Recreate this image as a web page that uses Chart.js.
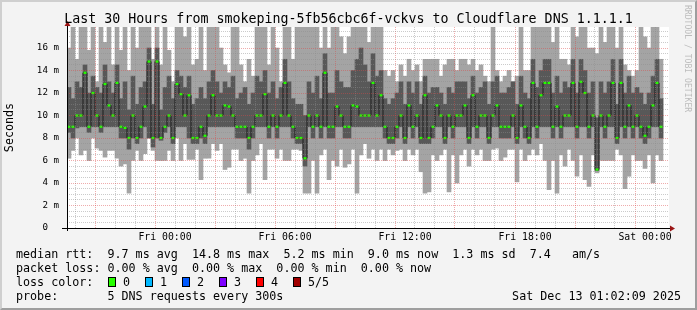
<!DOCTYPE html>
<html>
<head>
<meta charset="utf-8">
<script src="https://cdn.jsdelivr.net/npm/chart.js@4/dist/chart.umd.min.js"></script>
<style>
  html, body { margin: 0; padding: 0; background: #f3f3f3; }
  #wrap { position: relative; width: 697px; height: 310px; overflow: hidden; background: #f3f3f3;
          font-family: "DejaVu Sans Mono", monospace; color: #000; }
  #chart { position: absolute; left: 0; top: 0; }
  .frame { position: absolute; left: 0; top: 0; width: 697px; height: 310px; box-sizing: border-box;
           border-top: 2px solid #cfcfcf; border-left: 2px solid #cfcfcf;
           border-right: 2px solid #9e9e9e; border-bottom: 2px solid #9e9e9e; pointer-events: none; }
  #title { position: absolute; left: 0; top: 11px; width: 697px; text-align: center;
           font-size: 13.3px; line-height: 16px; white-space: pre; }
  .row { position: absolute; left: 16px; font-size: 11.7px; line-height: 14px; white-space: pre; }
  .stamp { position: absolute; right: 16px; font-size: 11.7px; line-height: 14px; white-space: pre; }
  .box { position: absolute; top: 277px; width: 8px; height: 10px; box-sizing: border-box; border: 1px solid #000; }
  .lbl { position: absolute; top: 275px; font-size: 11.7px; line-height: 14px; white-space: pre; }
  #mark { position: absolute; left: 683px; top: 5px; writing-mode: vertical-rl; font-size: 8.1px;
          line-height: 10px; color: #bcbcbc; white-space: pre; }
</style>
</head>
<body>
<div id="wrap">
  <canvas id="chart" width="697" height="310"></canvas>
  <div id="title">Last 30 Hours from smokeping-5fb56cbc6f-vckvs to Cloudflare DNS 1.1.1.1</div>
  <div id="mark">RRDTOOL / TOBI OETIKER</div>
  <div class="row" style="top:247px">median rtt:  9.7 ms avg  14.8 ms max  5.2 ms min  9.0 ms now  1.3 ms sd  7.4   am/s</div>
  <div class="row" style="top:261px">packet loss: 0.00 % avg  0.00 % max  0.00 % min  0.00 % now</div>
  <div class="row" style="top:275px">loss color:</div>
  <div id="losses"></div>
  <div class="row" style="top:289px">probe:       5 DNS requests every 300s</div>
  <div class="stamp" style="top:289px">Sat Dec 13 01:02:09 2025</div>
  <div class="frame"></div>
</div>
<script>
// 30 hours of DNS probes, one column per 12 minutes, hours relative to Fri 00:00.
const startHour = -4.9;
const stepHours = 0.2;
const spanHours = 30.1;

// five sorted pings per column: fastest, 2nd, median, 4th, slowest (ms)
const rttMin = [
  6.2, 6.9, 8, 6.5, 6.9, 6, 8, 7.1, 6.9, 6.3, 6.9, 6.9, 6.2, 5.5, 5.7, 3.1, 6, 6.9, 6, 6.6,
  8, 6.9, 6, 6, 6, 6.9, 6, 8, 6, 7.5,
  6.1, 6.1, 7, 4.3, 6.2, 6.2, 7.5, 6.9, 7.5, 5.2, 5.4, 7, 7, 6, 6.2, 3.1, 6, 6.5, 7.5, 4.3,
  7, 7, 6.2, 7, 6, 6, 7, 7, 6.9, 3.1,
  3.1, 6, 3.1, 6.5, 7, 4.3, 6, 5.5, 7, 5.4, 5.7, 7, 3.1, 6.5, 7.5, 6.2, 7, 6, 7, 6,
  7, 6.5, 6.9, 7, 6, 7, 6.5, 7, 5, 3.1,
  3.2, 6.5, 6, 6.5, 7, 3.2, 6.5, 4, 6.5, 7, 5.5, 7, 6.5, 7, 6, 6, 7, 7.1, 6, 6.3,
  7, 7, 4.1, 7, 6, 6.5, 7, 6.5, 7.5, 6,
  3.4, 6, 3.1, 6.5, 5.5, 7, 6, 4.6, 6.5, 4.3, 3.7, 6.5, 4.9, 6, 6, 6, 6, 7, 6.5, 3.5,
  4.6, 6.5, 6, 6, 5.3, 6.5, 4, 6.5, 6,
];
const rttP2 = [
  8.5, 8, 8.9, 9, 9, 8.5, 9, 9, 8.5, 9, 9, 9, 9, 8, 8, 7, 8, 7.5, 8, 9,
  8, 7.2, 8, 7.8, 8.5, 9, 7.5, 9, 9, 9,
  8, 7.5, 7.5, 8, 7.5, 9, 9, 9, 9, 9, 9, 9, 8, 8, 8, 7, 8, 9, 9, 9,
  8, 9, 8, 9, 9, 9, 8, 7.5, 7.5, 5.5,
  9, 8, 9, 8, 9, 8, 8, 9, 9, 8, 8, 9, 9, 9, 9, 9, 9, 9, 9, 8,
  7.5, 7.5, 8, 9, 7.5, 9, 8, 9, 7.5, 7.5,
  7.5, 8, 9, 9, 7.5, 9, 8, 9, 9, 9, 7.5, 9, 8, 9, 9, 7.5, 9, 9, 8, 8,
  8, 9, 7.5, 9, 8, 7.5, 9, 8, 9, 9,
  9, 8, 9, 8, 9, 9, 9, 8, 9, 9, 8, 9, 5.1, 9, 8, 9, 9, 7.5, 9, 8,
  9, 8, 9, 8, 7.5, 8, 9, 9, 8,
];
const rttMedian = [
  9, 9, 10, 10, 13.8, 9, 12, 10, 9, 12.8, 10.9, 10, 12.9, 9, 8.9, 8, 10, 8, 9, 10.8,
  14.8, 8, 14.8, 8, 9, 10, 8, 12.8, 11.9, 10,
  11.8, 8, 8, 9, 8.2, 10, 11.8, 10, 10, 10.9, 10.8, 10, 9, 9, 9, 8, 9, 10, 10, 11.9,
  9, 10, 9, 10, 12.9, 10, 9, 8, 8, 6.2,
  10, 9, 10, 9, 13.8, 9, 9, 10.8, 10, 9, 9, 10.9, 10.8, 10, 10, 10, 12.9, 10, 11.8, 9,
  8, 8, 9, 10, 8, 10.9, 9, 10, 8, 11.8,
  8, 9, 10.9, 10, 8, 10, 9, 10, 10, 10.9, 8, 11.8, 9, 10, 10, 8, 10, 10.9, 9, 9,
  9, 10, 8, 10.9, 9, 8, 12.9, 9, 11.8, 12.9,
  12.9, 9, 10.8, 9, 10, 10, 12.9, 9, 13, 12, 9, 10, 5.2, 10, 9, 10, 12.9, 8, 12.9, 9,
  10.9, 9, 10, 9, 8.2, 9, 10.9, 12.9, 9,
];
const rttP4 = [
  12.5, 11.5, 13, 12.5, 14.5, 12, 13.5, 12.5, 12, 14.5, 13, 12, 14.5, 11.5, 13, 10.5, 13.5, 11, 12.5, 13,
  16, 11, 16, 10.5, 12.5, 13.5, 11.5, 14, 13.5, 12.5,
  13.5, 11, 11.5, 12.5, 11.5, 13, 14, 13, 12, 13, 12.5, 13.5, 11.5, 12, 12.5, 11, 12, 13.5, 13, 14,
  12, 13, 11.5, 12.5, 15, 13, 11.5, 11, 11, 10,
  13, 12, 13.5, 11.5, 15.5, 12, 12, 14, 13, 12.5, 12.5, 14, 15, 16, 14.5, 13, 15.5, 13.5, 14, 11.5,
  11, 11.5, 12, 13, 11, 13, 12, 13, 11, 13.5,
  12, 12.5, 12.5, 12, 11, 12.5, 12, 13, 13, 13, 11.5, 13.5, 12, 12.5, 13, 11, 13, 13.5, 12, 12,
  12.5, 13, 11, 13.5, 12, 11.5, 15, 12.5, 14, 15,
  15, 12, 13.5, 12, 13, 12.5, 15, 12, 15, 14, 12, 13, 9.8, 13, 12, 13, 15, 11, 15, 12,
  13.5, 12, 12.5, 12, 11, 12, 13.5, 15, 11.5,
];
const rttMax = [
  16, 18.5, 15, 18.5, 18.5, 15.8, 18.5, 13, 18.5, 16.5, 18.5, 14.5, 18.5, 15.8, 18.5, 14, 18.5, 16, 18.5, 18.5,
  18.5, 15, 18.5, 14.5, 18.5, 15.8, 13, 18.5, 18.5, 17,
  18.5, 14.5, 15, 18.5, 14, 18.5, 18.5, 18.5, 16, 14.5, 13.8, 18.5, 18.5, 14.5, 13, 15, 13.5, 18.5, 18.5, 18.5,
  14.5, 18.5, 16, 13, 18.5, 18.5, 15, 18.5, 18.5, 18.5,
  18.5, 18.5, 18.5, 16, 18.5, 16, 18.5, 18.5, 17, 15.5, 17, 18.5, 18.5, 18.5, 18.5, 16.5, 18.5, 18.5, 18.5, 14,
  13.5, 14, 13, 14.5, 13.5, 15, 14, 14.5, 13, 15,
  15, 15, 15, 13.5, 14.5, 15, 15, 14, 15, 15, 14.5, 15, 14, 14.5, 13.5, 13, 18.5, 14, 13, 13.5,
  14, 13, 13.5, 18.5, 14, 14, 18.5, 18.5, 18.5, 18.5,
  18.5, 16.5, 18.5, 15, 15, 14.5, 18.5, 17, 18.5, 18.5, 16, 16, 15.5, 18.5, 16.5, 18.5, 18.5, 16, 18.5, 14.5,
  14, 13.5, 14, 18.5, 17, 16, 18.5, 18.5, 15,
];

const xTickHours = [0, 6, 12, 18, 24];
const xTickLabels = ['Fri 00:00', 'Fri 06:00', 'Fri 12:00', 'Fri 18:00', 'Sat 00:00'];
const yMax = 17.87;

const lossLabels = ['0', '1', '2', '3', '4', '5/5'];
const lossColors = ['#26ff00', '#00b8ff', '#0059ff', '#7e00ff', '#ff0000', '#a10000'];

const MONO = '"DejaVu Sans Mono", monospace';
const MAJOR_GRID = 'rgba(220, 70, 70, 0.45)';
const MINOR_GRID = 'rgba(140, 140, 140, 0.45)';

// loss colour legend
const losses = document.getElementById('losses');
lossLabels.forEach((label, i) => {
  const box = document.createElement('div');
  box.className = 'box';
  box.style.left = (108 + 37 * i) + 'px';
  box.style.background = lossColors[i];
  const txt = document.createElement('div');
  txt.className = 'lbl';
  txt.style.left = (123 + 37 * i) + 'px';
  txt.textContent = label;
  losses.appendChild(box);
  losses.appendChild(txt);
});

const hourOf = (i) => startHour + stepHours * (i + 0.5);
const band = (lo, hi) => lo.map((v, i) => ({ x: hourOf(i), y: [v, hi[i]] }));

// white plot canvas underneath, rrdtool-style axes with arrow heads on top
const rrdFrame = {
  id: 'rrdFrame',
  beforeDraw(chart) {
    const { ctx, chartArea: a } = chart;
    ctx.save();
    ctx.fillStyle = '#ffffff';
    ctx.fillRect(a.left, a.top, a.right - a.left, a.bottom - a.top);
    ctx.restore();
  },
  afterDraw(chart) {
    const { ctx, chartArea: a } = chart;
    const x0 = Math.round(a.left) + 0.5;
    const y0 = Math.round(a.bottom) + 0.5;
    ctx.save();
    ctx.strokeStyle = '#000';
    ctx.lineWidth = 1;
    ctx.beginPath();
    ctx.moveTo(a.left - 5, y0);
    ctx.lineTo(a.right + 1, y0);
    ctx.moveTo(x0, a.bottom + 3);
    ctx.lineTo(x0, a.top - 2);
    ctx.stroke();
    ctx.fillStyle = '#9a1414';
    ctx.beginPath();
    ctx.moveTo(a.right + 1, y0 - 3);
    ctx.lineTo(a.right + 6, y0);
    ctx.lineTo(a.right + 1, y0 + 3);
    ctx.fill();
    ctx.beginPath();
    ctx.moveTo(x0 - 3, a.top - 1);
    ctx.lineTo(x0, a.top - 6);
    ctx.lineTo(x0 + 3, a.top - 1);
    ctx.fill();
    ctx.restore();
  },
};

const barCommon = { type: 'bar', grouped: false, barPercentage: 1, categoryPercentage: 1, borderWidth: 0 };

new Chart(document.getElementById('chart'), {
  type: 'bar',
  data: {
    datasets: [
      { ...barCommon, label: 'min-max', data: band(rttMin, rttMax), backgroundColor: '#a4a4a4', order: 4 },
      { ...barCommon, label: 'p2-p4', data: band(rttP2, rttP4), backgroundColor: '#585858', order: 3 },
      {
        type: 'line',
        label: 'median',
        data: rttMedian.map((v, i) => ({ x: hourOf(i), y: v })),
        borderColor: '#1c1c1c',
        borderWidth: 1,
        stepped: 'middle',
        pointRadius: 0,
        order: 2,
      },
      {
        ...barCommon,
        label: 'loss 0',
        data: rttMedian.map((v, i) => ({ x: hourOf(i), y: [v - 0.1, v + 0.1] })),
        backgroundColor: lossColors[0],
        barPercentage: 0.75,
        order: 1,
      },
    ],
  },
  options: {
    responsive: false,
    animation: false,
    devicePixelRatio: 1,
    layout: { padding: { top: 27, right: 28, left: 0, bottom: 0 } },
    plugins: { legend: { display: false }, tooltip: { enabled: false }, title: { display: false } },
    scales: {
      x: {
        type: 'linear',
        min: startHour,
        max: startHour + spanHours,
        offset: false,
        afterBuildTicks: (s) => {
          const ticks = [];
          for (let h = Math.ceil(startHour); h <= startHour + spanHours; h++) ticks.push({ value: h });
          s.ticks = ticks;
        },
        afterFit: (s) => { s.height = 82; },
        grid: {
          color: (c) => (c.tick && c.tick.value % 3 === 0 ? MAJOR_GRID : MINOR_GRID),
          drawTicks: false,
          z: 1,
        },
        border: { display: false, dash: [1, 1] },
        ticks: {
          autoSkip: false,
          maxRotation: 0,
          padding: 4,
          color: '#000',
          font: { family: MONO, size: 9.8 },
          callback: (v) => {
            const k = xTickHours.indexOf(v);
            return k >= 0 ? xTickLabels[k] : '';
          },
        },
      },
      y: {
        min: 0,
        max: yMax,
        afterBuildTicks: (s) => {
          const ticks = [];
          for (let v = 0; v < yMax; v += 0.5) ticks.push({ value: v });
          s.ticks = ticks;
        },
        afterFit: (s) => { s.width = 67; },
        grid: {
          color: (c) => (c.tick && c.tick.value % 2 === 0 ? MAJOR_GRID : MINOR_GRID),
          drawTicks: false,
          z: 1,
        },
        border: { display: false, dash: [1, 1] },
        ticks: {
          autoSkip: false,
          padding: 8,
          color: '#000',
          font: { family: MONO, size: 9.2 },
          callback: (v) => (v % 2 !== 0 ? '' : v === 0 ? '0  ' : v + ' m'),
        },
        title: {
          display: true,
          text: 'Seconds',
          color: '#000',
          font: { family: MONO, size: 11.7 },
          padding: { top: 3, bottom: 0 },
        },
      },
    },
  },
  plugins: [rrdFrame],
});
</script>
</body>
</html>
